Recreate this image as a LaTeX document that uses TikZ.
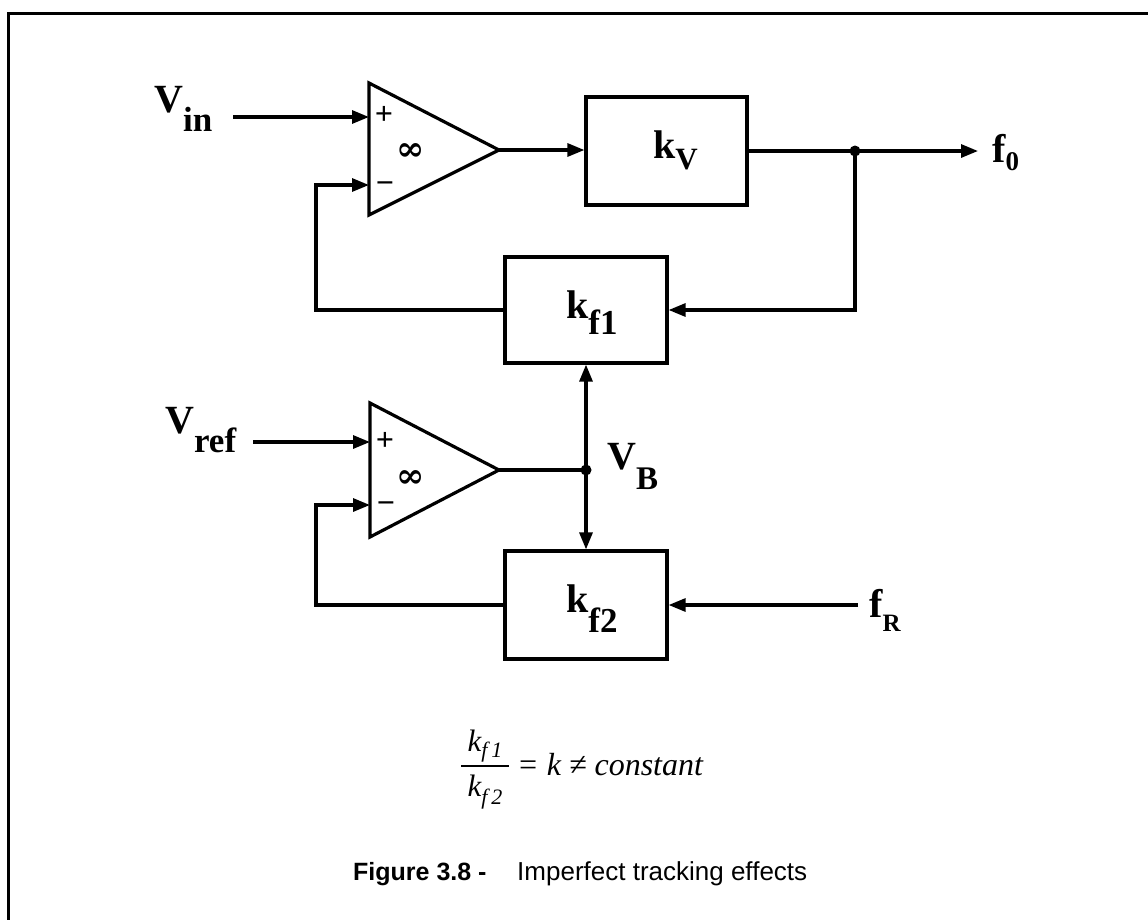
\documentclass[tikz,border=0pt]{standalone}
\usepackage{fontspec}
\setmainfont{Liberation Serif}
\setsansfont{Liberation Sans}
\newfontfamily\djs{DejaVu Serif}
\usetikzlibrary{arrows.meta}
\newcommand\sublbl[4]{#1\raisebox{-#3}{\fontsize{#4}{#4}\selectfont #2}}
\begin{document}
\begin{tikzpicture}[x=1pt,y=-1pt,
  wire/.style={line width=3.1pt},
  arr/.style={wire,-{Triangle[length=17pt,width=13pt]}},
  blk/.style={draw,line width=3.2pt,inner sep=0pt,line join=miter},
  lbl/.style={inner sep=0pt,anchor=base west,font=\fontsize{40}{40}\selectfont\bfseries},
  sgn/.style={inner sep=0pt,font=\bfseries\fontsize{32}{32}\selectfont},
  inf/.style={inner sep=0pt,font=\djs\bfseries\fontsize{34}{34}\selectfont},
  eqt/.style={inner sep=0pt,font=\itshape\fontsize{31}{31}\selectfont},
  dot/.style={circle,fill,inner sep=0pt,minimum size=11pt}]
\useasboundingbox (0,0) rectangle (1148,919);
\clip (0,0) rectangle (1148,919);
\draw[line width=3pt] (8,13) rectangle (1175,945);
% op-amp 1
\draw[blk] (369,83) -- (369,215) -- (499,150) -- cycle;
\coordinate (a1p) at (369,117);
\coordinate (a1m) at (369,185);
\coordinate (a1o) at (499,150);
\node[sgn] (a1ps) at (384,115) {+};
\node[sgn] (a1ms) at (385,188) {−};
\node[inf] (a1i) at (411,152) {∞};
% op-amp 2
\draw[blk] (370,403) -- (370,537) -- (499,470) -- cycle;
\coordinate (a2p) at (370,442);
\coordinate (a2m) at (370,505);
\coordinate (a2o) at (499,470);
\node[sgn] (a2ps) at (385,441) {+};
\node[sgn] (a2ms) at (386,508) {−};
\node[inf] (a2i) at (411,479) {∞};
% blocks
\node[blk,minimum width=161pt,minimum height=108pt] (kv) at (666.5,151) {};
\node[blk,minimum width=162pt,minimum height=106pt] (kf1) at (586,310) {};
\node[blk,minimum width=162pt,minimum height=108pt] (kf2) at (586,605) {};
% labels
\node[lbl] (vin) at (154,112) {\sublbl{V}{in}{19pt}{35}};
\node[lbl] (vref) at (165,433) {\sublbl{V}{ref}{19pt}{35}};
\node[lbl] (kvl) at (653,158) {\sublbl{k}{V}{11pt}{31}};
\node[lbl] (kf1l) at (566,318) {\sublbl{k}{f1}{16pt}{35}};
\node[lbl] (kf2l) at (566,612) {\sublbl{k}{f2}{20pt}{35}};
\node[lbl] (vbl) at (607,469) {\sublbl{V}{B}{20pt}{33}};
\node[lbl] (f0l) at (992,162) {\sublbl{f}{0}{8pt}{27}};
\node[lbl] (frl) at (869,617) {\sublbl{f}{R}{14pt}{25}};
% coordinates for free ends
\coordinate (vins) at (233,117);
\coordinate (vrefs) at (253,442);
\coordinate (f0e) at (978,151);
\coordinate (frs) at (858,605);
\node[dot] (j1) at (855,151) {};
\node[dot] (j2) at (586,470) {};
% wires
\draw[arr] (vins) -- (a1p);
\draw[arr] (vrefs) -- (a2p);
\draw[arr] (a1o) -- (a1o -| kv.west);
\draw[arr] (kv.east |- j1) -- (f0e);
\draw[arr] (j1.center) |- (kf1.east);
\draw[arr] (kf1.west) -| (316,185) -- (a1m);
\draw[wire] (a2o) -- (j2.center);
\draw[arr] (j2.center) -- (kf1.south);
\draw[arr] (j2.center) -- (kf2.north);
\draw[arr] (kf2.west) -| (316,505) -- (a2m);
\draw[arr] (frs) -- (kf2.east);
% equation
\node[eqt,anchor=base] (eqnum) at (485,751) {k\raisebox{-6pt}{\fontsize{22}{22}\selectfont f\hspace{4pt}1}};
\node[eqt,anchor=base] (eqden) at (485,796) {k\raisebox{-8pt}{\fontsize{22}{22}\selectfont f\hspace{4pt}2}};
\draw[line width=2pt] (461,766) -- (509,766);
\node[eqt,anchor=base west,font=\itshape\fontsize{32}{32}\selectfont] (eqrest) at (517,775) {= k ≠ constant};
% caption
\node[inner sep=0pt,anchor=base west,font=\sffamily\bfseries\fontsize{25}{25}\selectfont] (capa) at (353,880) {Figure 3.8 -};
\node[inner sep=0pt,anchor=base west,font=\sffamily\fontsize{26}{26}\selectfont] (capb) at (517,880) {Imperfect tracking effects};
\end{tikzpicture}
\end{document}
